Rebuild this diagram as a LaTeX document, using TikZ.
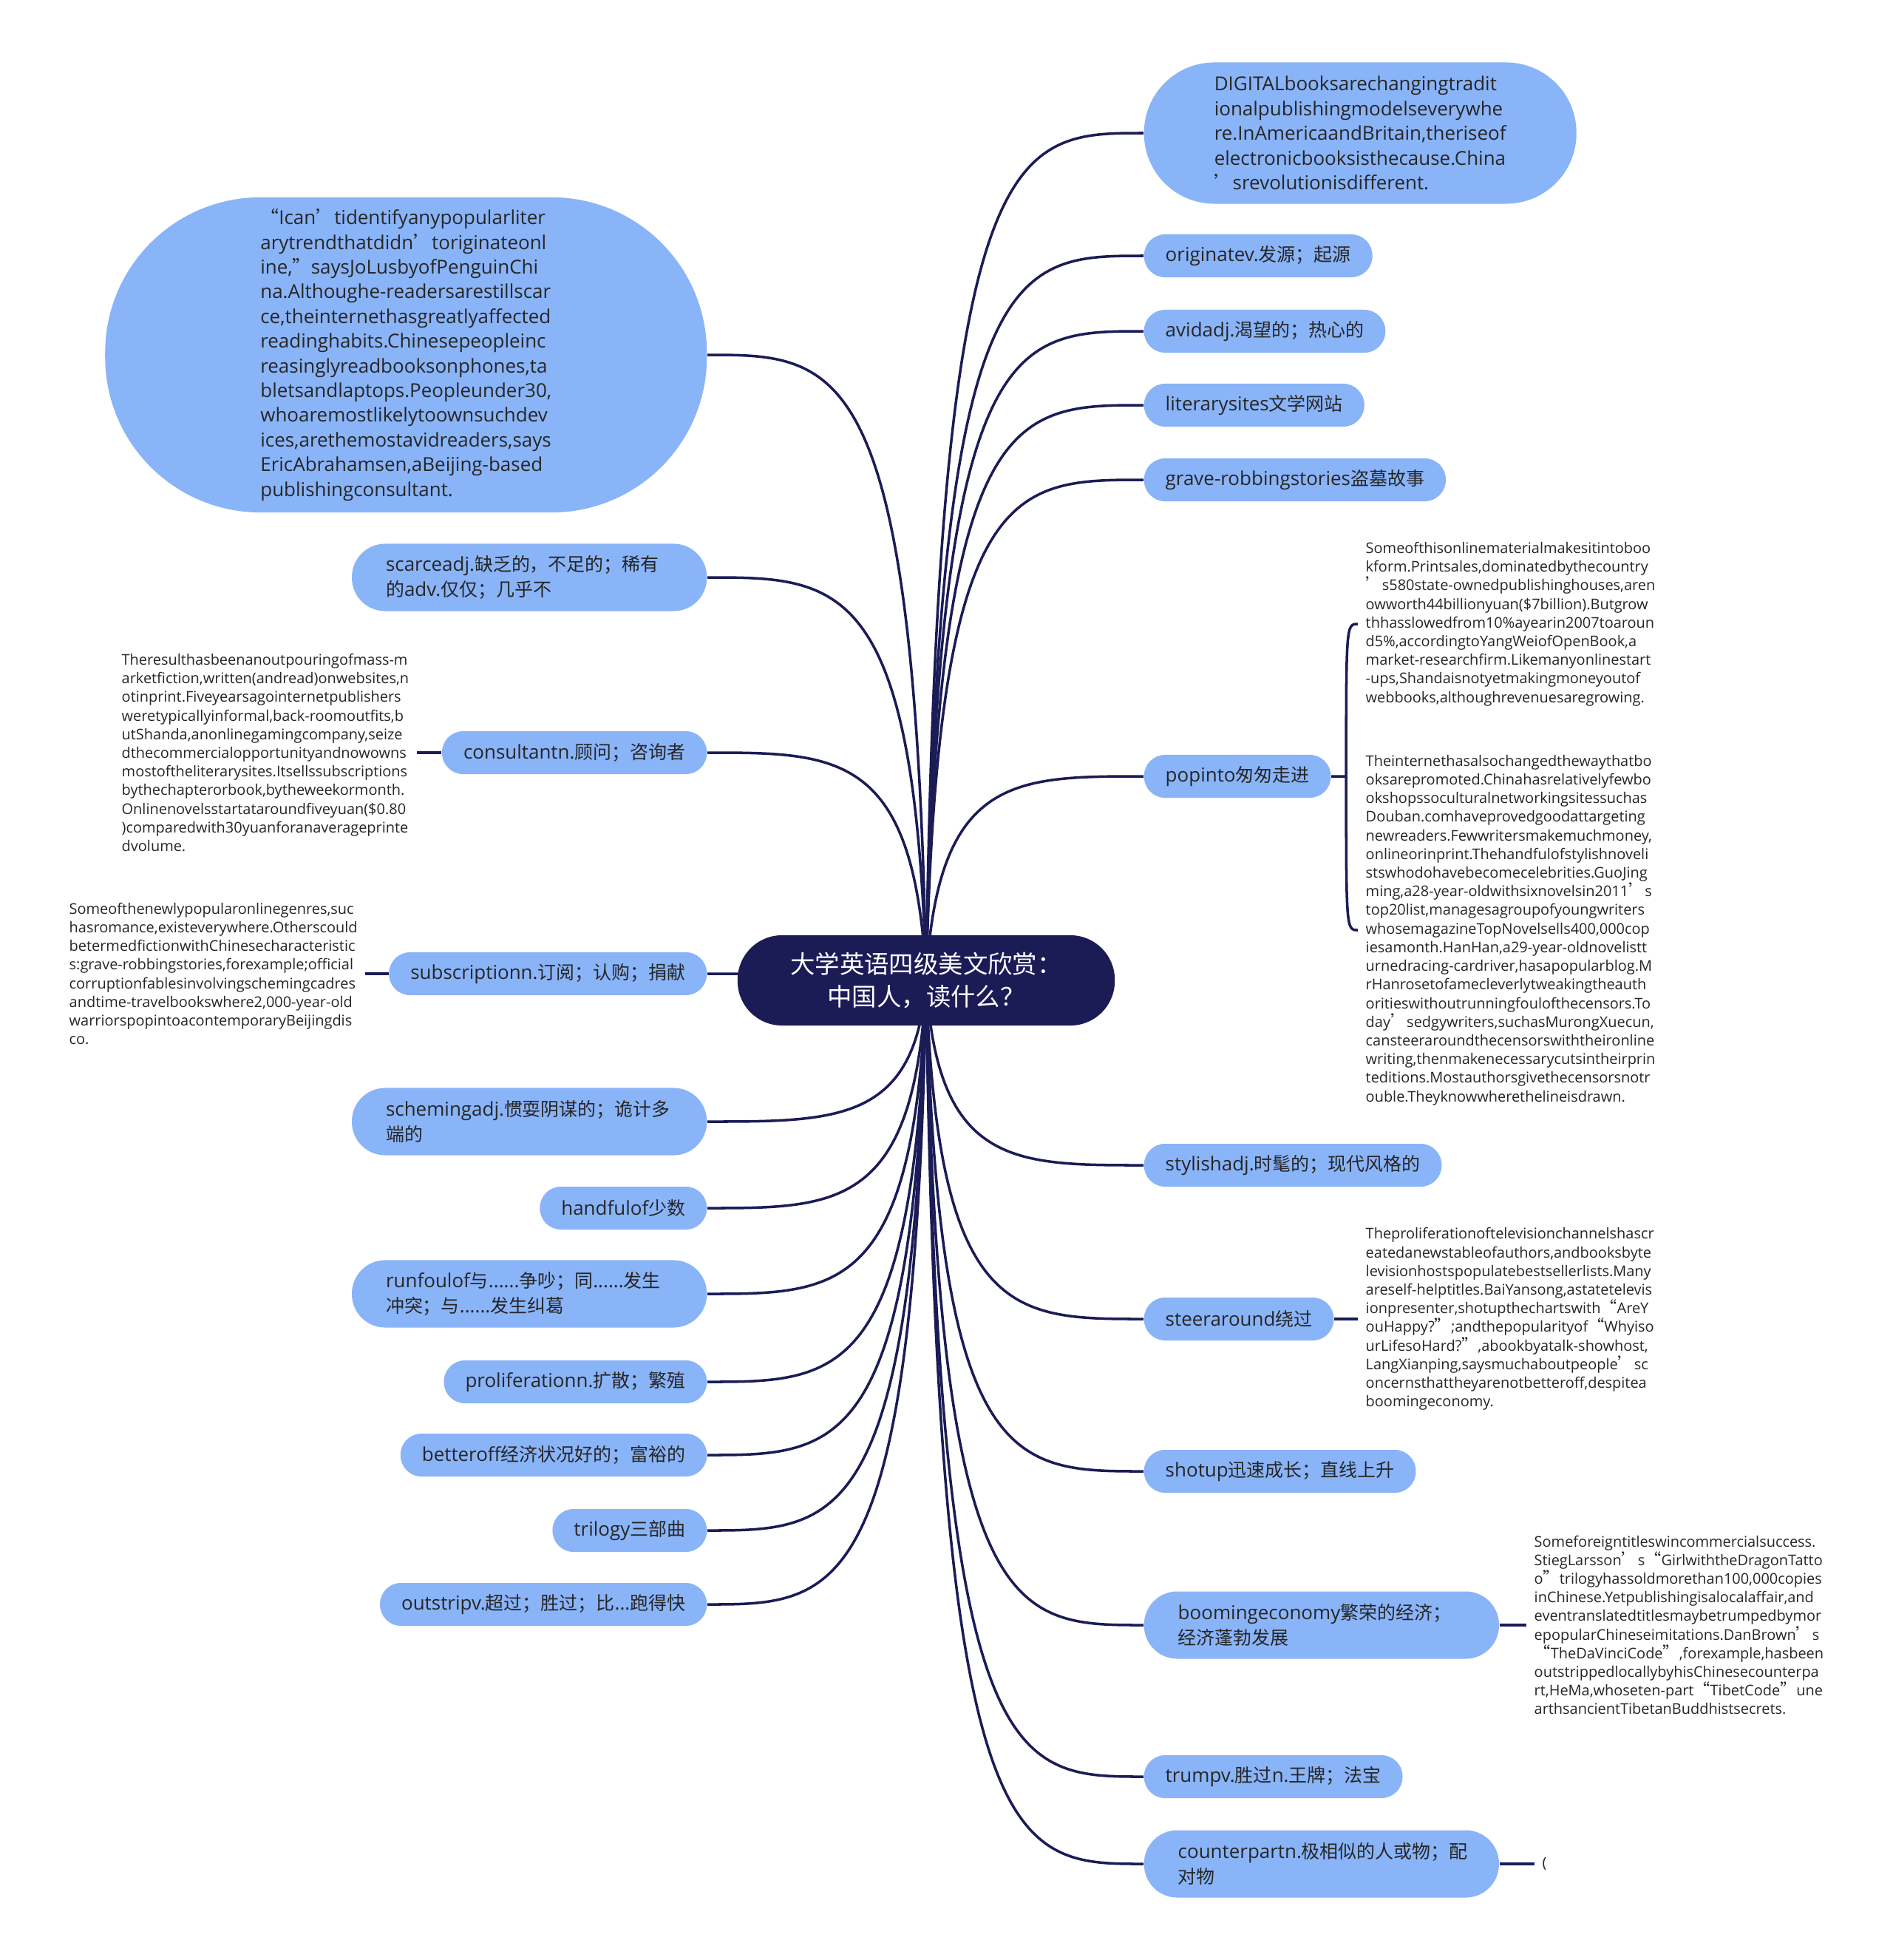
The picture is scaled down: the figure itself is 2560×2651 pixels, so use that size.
\documentclass[tikz,border=0pt]{standalone}
\usepackage{fontspec}
\usepackage{tikz}
\usetikzlibrary{calc,backgrounds}
\setmainfont{Open Sans}[Scale=0.9]
\newfontfamily\topicfont{Open Sans}[Scale=1.04]
\newfontfamily\zhfont{Noto Sans CJK SC}[RawFeature=+fwid]
\newcommand\zh[1]{{\zhfont #1}}
\definecolor{mapnavy}{HTML}{1B1C56}
\definecolor{topicblue}{HTML}{8AB4F8}
\definecolor{inkgray}{HTML}{262626}
\tikzset{
  rootnode/.style={fill=mapnavy, text=white, rounded corners=0.6cm, minimum width=5.1cm,
    minimum height=1.22cm, align=center, font=\fontsize{9.5}{12.5}\selectfont},
  topic/.style={fill=topicblue, text=inkgray, rounded corners=0.285cm, minimum height=0.58cm,
    inner xsep=0.29cm, inner ysep=0.05cm, align=left, font=\fontsize{7.1}{9.7}\topicfont},
  twoline/.style={topic, rounded corners=0.45cm, minimum height=0.91cm, inner xsep=0.46cm,
    text width=3.88cm},
  bigtopic/.style={topic, font=\fontsize{7.1}{9.5}\topicfont},
  note/.style={text=inkgray, inner xsep=0.1cm, inner ysep=0, align=left,
    font=\fontsize{6.3}{7.17}\selectfont},
  link/.style={draw=mapnavy, line width=1pt},
  branch/.style={to path={.. controls ($(\tikztostart |- \tikztotarget)!0.05!(\tikztotarget)$)
    and ($(\tikztostart |- \tikztotarget)!0.4!(\tikztotarget)$) .. (\tikztotarget)}}
}
\begin{document}
\begin{tikzpicture}[x=0.01cm,y=-0.01cm]
    \useasboundingbox (0,0) rectangle (2560,2651);
    %root
    \node[rootnode] (root) at (1253,1326) {\zh{大学英语四级美文欣赏：}\\\zh{中国人，读什么？}};
    %right topics
    \node[bigtopic,anchor=west,minimum height=1.91cm,rounded corners=0.95cm,inner xsep=0.95cm] (digital) at (1547,180)
      {DIGITALbooksarechangingtradit\\ionalpublishingmodelseverywhe\\re.InAmericaandBritain,theriseof\\electronicbooksisthecause.China\\\zh{’}srevolutionisdifferent.};
    \node[topic,anchor=west] (originate) at (1547,346) {originatev.\zh{发源；起源}};
    \node[topic,anchor=west] (avid) at (1547,448) {avidadj.\zh{渴望的；热心的}};
    \node[topic,anchor=west] (literary) at (1547,548) {literarysites\zh{文学网站}};
    \node[topic,anchor=west] (grave) at (1547,649) {grave-robbingstories\zh{盗墓故事}};
    \node[topic,anchor=west] (popinto) at (1547,1050) {popinto\zh{匆匆走进}};
    \node[topic,anchor=west] (stylish) at (1547,1576) {stylishadj.\zh{时髦的；现代风格的}};
    \node[topic,anchor=west] (steer) at (1547,1784) {steeraround\zh{绕过}};
    \node[topic,anchor=west] (shotup) at (1547,1990) {shotup\zh{迅速成长；直线上升}};
    \node[twoline,anchor=west] (booming) at (1547,2198) {boomingeconomy\zh{繁荣的经济；}\\\zh{经济蓬勃发展}};
    \node[topic,anchor=west] (trump) at (1547,2403) {trumpv.\zh{胜过}n.\zh{王牌；法宝}};
    \node[twoline,anchor=west] (counterpart) at (1547,2521) {counterpartn.\zh{极相似的人或物；配}\\\zh{对物}};
    %left topics
    \node[bigtopic,anchor=east,minimum height=4.26cm,rounded corners=2.1cm,inner xsep=2.1cm] (quote) at (957,480)
      {\zh{“}Ican\zh{’}tidentifyanypopularliter\\arytrendthatdidn\zh{’}toriginateonl\\ine,\zh{”}saysJoLusbyofPenguinChi\\na.Althoughe-readersarestillscar\\ce,theinternethasgreatlyaffected\\readinghabits.Chinesepeopleinc\\reasinglyreadbooksonphones,ta\\bletsandlaptops.Peopleunder30,\\whoaremostlikelytoownsuchdev\\ices,arethemostavidreaders,says\\EricAbrahamsen,aBeijing-based\\publishingconsultant.};
    \node[twoline,anchor=east] (scarce) at (957,781) {scarceadj.\zh{缺乏的，不足的；稀有}\\\zh{的}adv.\zh{仅仅；几乎不}};
    \node[topic,anchor=east] (consultant) at (957,1018) {consultantn.\zh{顾问；咨询者}};
    \node[topic,anchor=east] (subscription) at (957,1317) {subscriptionn.\zh{订阅；认购；捐献}};
    \node[twoline,anchor=east] (scheming) at (957,1517) {schemingadj.\zh{惯耍阴谋的；诡计多}\\\zh{端的}};
    \node[topic,anchor=east] (handful) at (957,1634) {handfulof\zh{少数}};
    \node[twoline,anchor=east] (runfoul) at (957,1750) {runfoulof\zh{与}......\zh{争吵；同}......\zh{发生}\\\zh{冲突；与}......\zh{发生纠葛}};
    \node[topic,anchor=east] (prolif) at (957,1869) {proliferationn.\zh{扩散；繁殖}};
    \node[topic,anchor=east] (betteroff) at (957,1968) {betteroff\zh{经济状况好的；富裕的}};
    \node[topic,anchor=east] (trilogy) at (957,2070) {trilogy\zh{三部曲}};
    \node[topic,anchor=east] (outstrip) at (957,2170) {outstripv.\zh{超过；胜过；比}...\zh{跑得快}};
    %notes
    \node[note,anchor=west] (noteprint) at (1837,844)
      {Someofthisonlinematerialmakesitintoboo\\kform.Printsales,dominatedbythecountry\\\zh{’}s580state-ownedpublishinghouses,aren\\owworth44billionyuan(\$7billion).Butgrow\\thhasslowedfrom10\%ayearin2007toaroun\\d5\%,accordingtoYangWeiofOpenBook,a\\market-researchfirm.Likemanyonlinestart\\-ups,Shandaisnotyetmakingmoneyoutof\\webbooks,althoughrevenuesaregrowing.};
    \node[note,anchor=west] (notepromo) at (1837,1258)
      {Theinternethasalsochangedthewaythatbo\\oksarepromoted.Chinahasrelativelyfewbo\\okshopssoculturalnetworkingsitessuchas\\Douban.comhaveprovedgoodattargeting\\newreaders.Fewwritersmakemuchmoney,\\onlineorinprint.Thehandfulofstylishnoveli\\stswhodohavebecomecelebrities.GuoJing\\ming,a28-year-oldwithsixnovelsin2011\zh{’}s\\top20list,managesagroupofyoungwriters\\whosemagazineTopNovelsells400,000cop\\iesamonth.HanHan,a29-year-oldnovelistt\\urnedracing-cardriver,hasapopularblog.M\\rHanrosetofamecleverlytweakingtheauth\\oritieswithoutrunningfoulofthecensors.To\\day\zh{’}sedgywriters,suchasMurongXuecun,\\cansteeraroundthecensorswiththeironline\\writing,thenmakenecessarycutsintheirprin\\teditions.Mostauthorsgivethecensorsnotr\\ouble.Theyknowwherethelineisdrawn.};
    \node[note,anchor=west] (notetv) at (1837,1784)
      {Theproliferationoftelevisionchannelshascr\\eatedanewstableofauthors,andbooksbyte\\levisionhostspopulatebestsellerlists.Many\\areself-helptitles.BaiYansong,astatetelevis\\ionpresenter,shotupthechartswith\zh{“}AreY\\ouHappy?\zh{”};andthepopularityof\zh{“}Whyiso\\urLifesoHard?\zh{”},abookbyatalk-showhost,\\LangXianping,saysmuchaboutpeople\zh{’}sc\\oncernsthattheyarenotbetteroff,despitea\\boomingeconomy.};
    \node[note,anchor=west] (noteforeign) at (2065,2198)
      {Someforeigntitleswincommercialsuccess.\\StiegLarsson\zh{’}s\zh{“}GirlwiththeDragonTatto\\o\zh{”}trilogyhassoldmorethan100,000copies\\inChinese.Yetpublishingisalocalaffair,and\\eventranslatedtitlesmaybetrumpedbymor\\epopularChineseimitations.DanBrown\zh{’}s\\\zh{“}TheDaVinciCode\zh{”},forexample,hasbeen\\outstrippedlocallybyhisChinesecounterpa\\rt,HeMa,whoseten-part\zh{“}TibetCode\zh{”}une\\arthsancientTibetanBuddhistsecrets.};
    \node[note,anchor=west] (noteparen) at (2076,2521) {(};
    \node[note,anchor=west] (notemass) at (154,1018)
      {Theresulthasbeenanoutpouringofmass-m\\arketfiction,written(andread)onwebsites,n\\otinprint.Fiveyearsagointernetpublishers\\weretypicallyinformal,back-roomoutfits,b\\utShanda,anonlinegamingcompany,seize\\dthecommercialopportunityandnowowns\\mostoftheliterarysites.Itsellssubscriptions\\bythechapterorbook,bytheweekormonth.\\Onlinenovelsstartataroundfiveyuan(\$0.80\\)comparedwith30yuanforanaverageprinte\\dvolume.};
    \node[note,anchor=west] (notegenres) at (83,1317)
      {Someofthenewlypopularonlinegenres,suc\\hasromance,existeverywhere.Otherscould\\betermedfictionwithChinesecharacteristic\\s:grave-robbingstories,forexample;official\\corruptionfablesinvolvingschemingcadres\\andtime-travelbookswhere2,000-year-old\\warriorspopintoacontemporaryBeijingdis\\co.};
    %links
    \begin{pgfonlayer}{background}
    \fill[white] (0,0) rectangle (2560,2651);
    \draw[link] (root.center) to[branch] (digital.west);
    \draw[link] (root.center) to[branch] (originate.west);
    \draw[link] (root.center) to[branch] (avid.west);
    \draw[link] (root.center) to[branch] (literary.west);
    \draw[link] (root.center) to[branch] (grave.west);
    \draw[link] (root.center) to[branch] (popinto.west);
    \draw[link] (root.center) to[branch] (stylish.west);
    \draw[link] (root.center) to[branch] (steer.west);
    \draw[link] (root.center) to[branch] (shotup.west);
    \draw[link] (root.center) to[branch] (booming.west);
    \draw[link] (root.center) to[branch] (trump.west);
    \draw[link] (root.center) to[branch] (counterpart.west);
    \draw[link] (root.center) to[branch] (quote.east);
    \draw[link] (root.center) to[branch] (scarce.east);
    \draw[link] (root.center) to[branch] (consultant.east);
    \draw[link] (root.center) to[branch] (subscription.east);
    \draw[link] (root.center) to[branch] (scheming.east);
    \draw[link] (root.center) to[branch] (handful.east);
    \draw[link] (root.center) to[branch] (runfoul.east);
    \draw[link] (root.center) to[branch] (prolif.east);
    \draw[link] (root.center) to[branch] (betteroff.east);
    \draw[link] (root.center) to[branch] (trilogy.east);
    \draw[link] (root.center) to[branch] (outstrip.east);
    \coordinate (popfork) at ($(popinto.east)+(20,0)$);
    \draw[link] (popinto.east) -- (popfork) .. controls (popfork |- noteprint.west) .. (noteprint.west);
    \draw[link] (popfork) .. controls (popfork |- notepromo.west) .. (notepromo.west);
    \draw[link] (steer.east) -- (notetv.west);
    \draw[link] (booming.east) -- (noteforeign.west);
    \draw[link] (counterpart.east) -- (noteparen.west);
    \draw[link] (consultant.west) -- (notemass.east);
    \draw[link] (subscription.west) -- (notegenres.east);
    \end{pgfonlayer}
\end{tikzpicture}
\end{document}
